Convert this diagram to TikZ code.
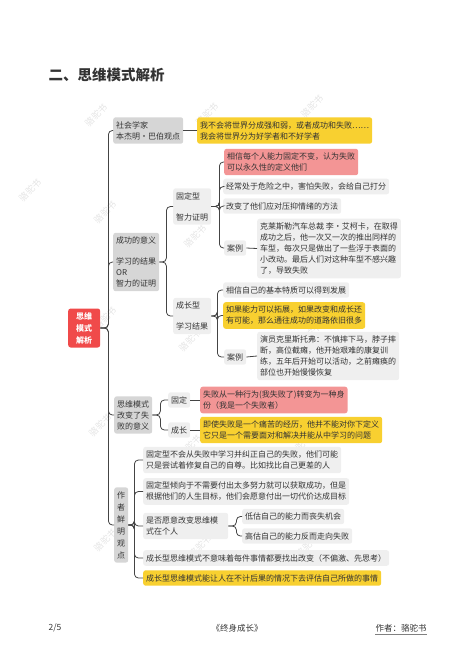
\documentclass[tikz,border=0pt]{standalone}
\usepackage{fontspec}
\setmainfont{Noto Sans CJK SC}
\usepackage{tikz}
\usetikzlibrary{arrows}
\definecolor{txtc}{HTML}{333333}
\definecolor{linec}{HTML}{444444}
\definecolor{rootc}{HTML}{F04A4A}
\definecolor{redc}{HTML}{F39595}
\definecolor{yelc}{HTML}{F8D030}
\definecolor{dgray}{HTML}{D6D6D6}
\definecolor{lgray}{HTML}{EFEFEF}
\definecolor{wmark}{HTML}{E4E4E4}

\begin{document}
\begin{tikzpicture}[
		x=1pt, y=-1pt,
		box/.style={anchor=west, align=left, rounded corners=2.5pt, inner xsep=3pt, inner ysep=4pt,
			text=txtc, font=\fontsize{8}{11}\selectfont},
		major/.style={box, fill=dgray},
		leaf/.style={box, fill=lgray},
		redbox/.style={box, fill=redc},
		yelbox/.style={box, fill=yelc},
		link/.style={draw=linec, line width=0.8pt, rounded corners=4pt},
		wm/.style={text=wmark, rotate=45, font=\fontsize{9}{9}\selectfont}]
	\useasboundingbox (0,0) rectangle (474,670);
	%% watermarks
	\foreach \wx/\wy in {96/115,207/114,312/106,30/190,105/212,195/236,105/318,190/340,310/334,100/425,190/446,300/446,105/540,200/546,307/546}
		\node at (\wx,\wy) [wm] {骆驼书};
	%% title
	\node (title) at (45,75) [anchor=west, text=txtc, font=\fontsize{14.5}{16}\selectfont\bfseries] {二、思维模式解析};
	%% define nodes
	\node (root) at (68,328) [anchor=west, fill=rootc, rounded corners=2.5pt, minimum width=32pt, minimum height=39pt,
		align=center, text=white, font=\fontsize{8}{12}\selectfont\bfseries] {思维\\模式\\解析};
	\node (soc) at (113,130.5) [major] {社会学家\\本杰明・巴伯观点};
	\node (socq) at (197,130.5) [yelbox] {我不会将世界分成强和弱，或者成功和失败……\\我会将世界分为好学者和不好学者};
	\node (succ) at (113,262) [major] {成功的意义\\[10pt]学习的结果\\OR\\智力的证明};
	\node (fixed) at (173,206.5) [leaf] {固定型\\[10pt]智力证明};
	\node (fa) at (224,162) [redbox] {相信每个人能力固定不变，认为失败\\可以永久性的定义他们};
	\node (fb) at (223,186.5) [leaf] {经常处于危险之中，害怕失败，会给自己打分};
	\node (fc) at (223,206) [leaf] {改变了他们应对压抑情绪的方法};
	\node (fcase) at (224,248) [leaf] {案例};
	\node (fcasetext) at (257,248.5) [leaf] {克莱斯勒汽车总裁 李・艾柯卡，在取得\\成功之后，他一次又一次的推出同样的\\车型，每次只是做出了一些浮于表面的\\小改动。最后人们对这种车型不感兴趣\\了，导致失败};
	\node (grow) at (173,316) [leaf] {成长型\\[10pt]学习结果};
	\node (ga) at (223,290) [leaf] {相信自己的基本特质可以得到发展};
	\node (gb) at (223,315.5) [yelbox] {如果能力可以拓展，如果改变和成长还\\有可能，那么通往成功的道路依旧很多};
	\node (gcase) at (224,357) [leaf] {案例};
	\node (gcasetext) at (257,356) [leaf] {演员克里斯托弗：不慎摔下马，脖子摔\\断，高位截瘫，他开始艰难的康复训\\练，五年后开始可以活动，之前瘫痪的\\部位也开始慢慢恢复};
	\node (fail) at (114,415) [major] {思维模式\\改变了失\\败的意义};
	\node (ffix) at (168,400) [leaf] {固定};
	\node (fgrow) at (168,430) [leaf] {成长};
	\node (ffixt) at (200,400) [redbox] {失败从一种行为(我失败了)转变为一种身\\份（我是一个失败者）};
	\node (fgrowt) at (200,430) [yelbox] {即使失败是一个痛苦的经历，他并不能对你下定义\\它只是一个需要面对和解决并能从中学习的问题};
	\node (auth) at (114,525) [major, font=\fontsize{8}{12}\selectfont] {作\\者\\鲜\\明\\观\\点};
	\node (aa) at (143,460) [leaf] {固定型不会从失败中学习并纠正自己的失败，他们可能\\只是尝试着修复自己的自尊。比如找比自己更差的人};
	\node (ab) at (143,491.5) [leaf] {固定型倾向于不需要付出太多努力就可以获取成功，但是\\根据他们的人生目标，他们会愿意付出一切代价达成目标};
	\node (ac) at (143,526) [leaf, text width=79pt] {是否愿意改变思维模\\式在个人};
	\node (aca) at (242,516.5) [leaf] {低估自己的能力而丧失机会};
	\node (acb) at (242,536) [leaf] {高估自己的能力反而走向失败};
	\node (ad) at (143,558) [leaf] {成长型思维模式不意味着每件事情都要找出改变（不偏激、先思考）};
	\node (ae) at (143,578) [yelbox] {成长型思维模式能让人在不计后果的情况下去评估自己所做的事情};
	%% define links
	\foreach \c in {soc,succ,fail,auth}
		\draw[link] (root.east) -- ++(8,0) |- (\c.west);
	\draw[link] (soc.east) -- (socq.west);
	\foreach \c in {fixed,grow}
		\draw[link] (succ.east) -- ++(7,0) |- (\c.west);
	\foreach \c in {fa,fb,fc,fcase}
		\draw[link] (fixed.east) -- ++(8,0) |- (\c.west);
	\draw[link] (fcase.east) -- (fcasetext.west);
	\foreach \c in {ga,gb,gcase}
		\draw[link] (grow.east) -- ++(6,0) |- (\c.west);
	\draw[link] (gcase.east) -- (gcasetext.west);
	\foreach \c in {ffix,fgrow}
		\draw[link] (fail.east) -- ++(8,0) |- (\c.west);
	\draw[link] (ffix.east) -- (ffixt.west);
	\draw[link] (fgrow.east) -- (fgrowt.west);
	\foreach \c in {aa,ab,ac,ad,ae}
		\draw[link] (auth.east) -- ++(6,0) |- (\c.west);
	\foreach \c in {aca,acb}
		\draw[link] (ac.east) -- ++(8,0) |- (\c.west);
	%% footer
	\node (page) at (45,628) [anchor=west, text=txtc, font=\fontsize{8.5}{10}\selectfont] {2/5};
	\node (book) at (237,628) [text=txtc, font=\fontsize{8.5}{10}\selectfont] {《终身成长》};
	\node (writer) at (372,628) [anchor=west, text=txtc, font=\fontsize{8.5}{10}\selectfont] {作者：骆驼书};
	\draw[gray, line width=1pt] (writer.south west) ++(3,-1) -- ([shift={(-3,-1)}]writer.south east);
\end{tikzpicture}
\end{document}
